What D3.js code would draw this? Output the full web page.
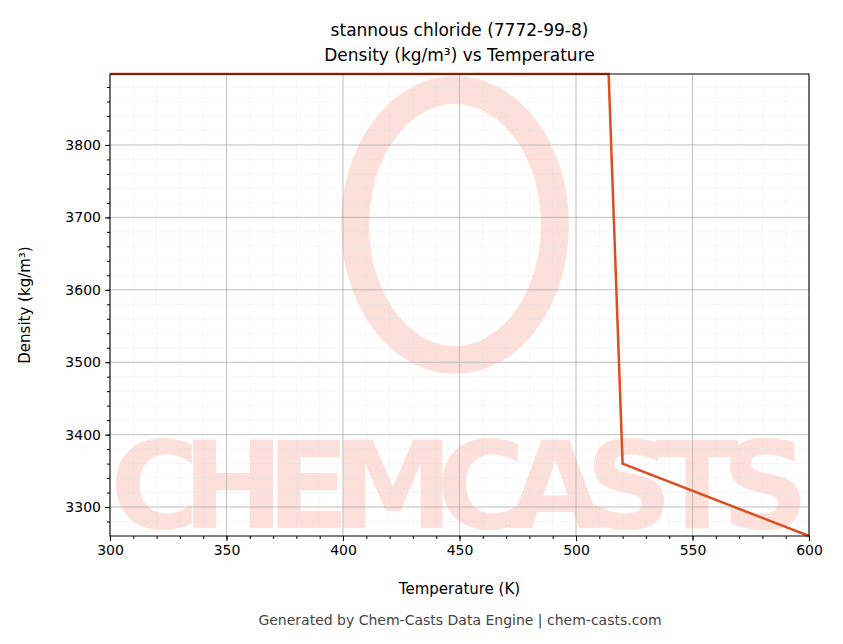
<!DOCTYPE html>
<html><head><meta charset="utf-8">
<script src="https://cdn.jsdelivr.net/npm/d3@7"></script>
<style>body{margin:0;background:#fff}svg text{font-family:"DejaVu Sans",sans-serif}</style>
</head><body><svg id="c" width="843" height="644"></svg>
<script>
const temps=[300,514,520,600];
const dens=[3898,3898,3360,3260];
const xTicks=[300,350,400,450,500,550,600];
const yTicks=[3300,3400,3500,3600,3700,3800];
const title1="stannous chloride (7772-99-8)";
const title2="Density (kg/m³) vs Temperature";

const svg=d3.select("#c");
const L=110,R=809,T=74,B=536;
const x=d3.scaleLinear().domain([300,600]).range([L,R]);
const y=d3.scaleLinear().domain([3260,3898]).range([B,T]);
const g=svg.append("g");
g.append("text").attr("x",(L+R)/2).attr("y",528).attr("text-anchor","middle")
 .style("font-size","122px").attr("font-weight","bold").attr("fill","#fde0da").attr("textLength",R-L).text("CHEMCASTS");
g.append("ellipse").attr("cx",455).attr("cy",225).attr("rx",100).attr("ry",135)
 .attr("fill","none").attr("stroke","#fde0da").attr("stroke-width",28);
for(let v=300;v<=600;v+=10) g.append("line").attr("x1",x(v)).attr("x2",x(v)).attr("y1",T).attr("y2",B).attr("stroke","#ddd").attr("stroke-width",0.5).attr("stroke-dasharray","1,1");
for(let v=3280;v<=3898;v+=20) g.append("line").attr("x1",L).attr("x2",R).attr("y1",y(v)).attr("y2",y(v)).attr("stroke","#ddd").attr("stroke-width",0.5).attr("stroke-dasharray","1,1");
xTicks.forEach(v=>g.append("line").attr("x1",x(v)).attr("x2",x(v)).attr("y1",T).attr("y2",B).attr("stroke","#aaa").attr("stroke-width",0.7));
yTicks.forEach(v=>g.append("line").attr("x1",L).attr("x2",R).attr("y1",y(v)).attr("y2",y(v)).attr("stroke","#aaa").attr("stroke-width",0.7));
const pts=temps.map((t,i)=>[t,dens[i]]);
g.append("path").attr("d",d3.line().x(d=>x(d[0])).y(d=>y(d[1]))(pts)).attr("fill","none").attr("stroke","#dd4e1f").attr("stroke-width",2.5);
const xm=svg.append("g").attr("transform",`translate(0,${B})`).call(d3.axisBottom(x).tickValues(d3.range(310,600,10)).tickSize(3).tickFormat(""));
const ym=svg.append("g").attr("transform",`translate(${L},0)`).call(d3.axisLeft(y).tickValues(d3.range(3280,3898,20)).tickSize(3).tickFormat(""));
[xm,ym].forEach(a=>a.selectAll("text").remove());
const xa=svg.append("g").attr("transform",`translate(0,${B})`).call(d3.axisBottom(x).tickValues(xTicks).tickSize(5).tickPadding(4).tickFormat(d3.format("d")));
const ya=svg.append("g").attr("transform",`translate(${L},0)`).call(d3.axisLeft(y).tickValues(yTicks).tickSize(5).tickPadding(4).tickFormat(d3.format("d")));
[xa,ya].forEach(a=>a.selectAll("text").style("font-size","14px").attr("fill","#000").style("font-family","DejaVu Sans"));
[xa,xm,ya,ym].forEach(a=>a.select(".domain").remove());
svg.append("rect").attr("x",L).attr("y",T).attr("width",R-L).attr("height",B-T).attr("fill","none").attr("stroke","#000");
svg.append("text").attr("x",(L+R)/2).attr("y",36).attr("text-anchor","middle").style("font-size","17px").text(title1);
svg.append("text").attr("x",(L+R)/2).attr("y",61).attr("text-anchor","middle").style("font-size","17px").text(title2);
svg.append("text").attr("x",(L+R)/2).attr("y",594).attr("text-anchor","middle").style("font-size","15px").text("Temperature (K)");
svg.append("text").attr("transform","translate(30,305) rotate(-90)").attr("text-anchor","middle").style("font-size","15px").text("Density (kg/m³)");
svg.append("text").attr("x",460).attr("y",625).attr("text-anchor","middle").style("font-size","14px").attr("fill","#444").text("Generated by Chem-Casts Data Engine | chem-casts.com");
</script></body></html>
